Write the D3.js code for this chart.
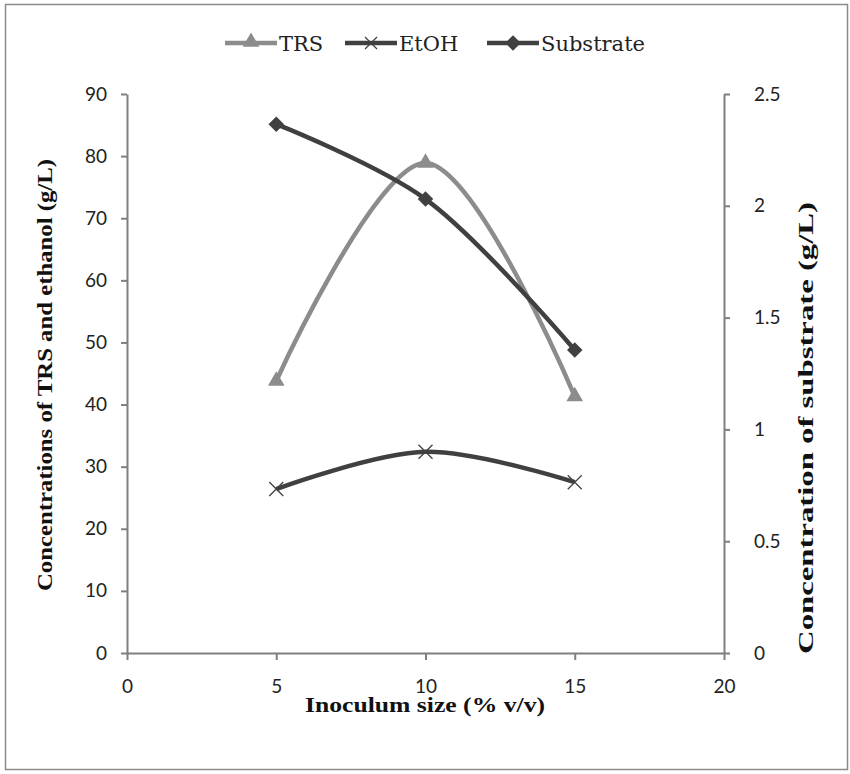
<!DOCTYPE html>
<html><head><meta charset="utf-8">
<script src="https://cdn.jsdelivr.net/npm/d3@7"></script>
<style>body{margin:0;background:#fff}</style>
</head><body>
<script>
const inoculum = [5, 10, 15];
const trs = [43.8, 78.9, 41.3];
const etoh = [26.4, 32.4, 27.5];
const substrate = [2.365, 2.03, 1.355];
const xTicks = [0, 5, 10, 15, 20];
const yLeftTicks = [0, 10, 20, 30, 40, 50, 60, 70, 80, 90];
const yRightTicks = [0, 0.5, 1, 1.5, 2, 2.5];

const W = 850, H = 774;
const svg = d3.select("body").append("svg").attr("width", W).attr("height", H);
svg.append("rect").attr("x", 5.5).attr("y", 4.5).attr("width", 842).attr("height", 765)
  .attr("fill", "#fff").attr("stroke", "#8a8a8a").attr("stroke-width", 1.5);

const x = d3.scaleLinear().domain([0, 20]).range([127, 724]);
const yL = d3.scaleLinear().domain([0, 90]).range([653, 94]);
const yR = d3.scaleLinear().domain([0, 2.5]).range([653, 94]);

const tickFont = "Lato, 'Open Sans', sans-serif";
const serif = "'DejaVu Serif', 'Liberation Serif', serif";
const axisColor = "#7f7f7f";

function styleAxis(g) {
  g.selectAll("path.domain").attr("stroke", axisColor).attr("stroke-width", 2);
  g.selectAll(".tick line").attr("stroke", axisColor).attr("stroke-width", 2);
  g.selectAll(".tick text").attr("fill", "#222").style("font-family", tickFont).style("font-size", "19px");
}

const gx = svg.append("g").attr("transform", "translate(0,653)")
  .call(d3.axisBottom(x).tickValues(xTicks).tickSize(7).tickSizeOuter(0).tickPadding(20).tickFormat(d3.format("d")));
styleAxis(gx);
const gl = svg.append("g").attr("transform", "translate(127,0)")
  .call(d3.axisLeft(yL).tickValues(yLeftTicks).tickSize(6).tickSizeOuter(0).tickPadding(14).tickFormat(d3.format("d")));
styleAxis(gl);
const gr = svg.append("g").attr("transform", "translate(724,0)")
  .call(d3.axisRight(yR).tickValues(yRightTicks).tickSize(6).tickSizeOuter(0).tickPadding(24).tickFormat(d => String(d)));
styleAxis(gr);

const curve = d3.curveCatmullRom.alpha(0.5);
const lineL = d3.line().x(d => x(d[0])).y(d => yL(d[1])).curve(curve);
const lineR = d3.line().x(d => x(d[0])).y(d => yR(d[1])).curve(curve);

const trsData = inoculum.map((v, i) => [v, trs[i]]);
const etohData = inoculum.map((v, i) => [v, etoh[i]]);
const subData = inoculum.map((v, i) => [v, substrate[i]]);

const grey = "#8c8c8c", dark = "#404040";

svg.append("path").attr("d", lineL(trsData)).attr("fill", "none").attr("stroke", grey).attr("stroke-width", 4.5);
svg.append("path").attr("d", lineL(etohData)).attr("fill", "none").attr("stroke", dark).attr("stroke-width", 4.5);
svg.append("path").attr("d", lineR(subData)).attr("fill", "none").attr("stroke", dark).attr("stroke-width", 4.5);

const tri = d3.symbol().type(d3.symbolTriangle).size(120);
const dia = d3.symbol().type(d3.symbolSquare).size(120);

function xMark(g, cx, cy, s) {
  g.append("path").attr("d", `M${cx-s},${cy-s}L${cx+s},${cy+s}M${cx-s},${cy+s}L${cx+s},${cy-s}`)
    .attr("stroke", dark).attr("stroke-width", 1.3).attr("fill", "none");
}

svg.selectAll("path.trsm").data(trsData).enter().append("path").attr("class", "trsm")
  .attr("d", tri).attr("fill", grey)
  .attr("transform", d => `translate(${x(d[0])},${yL(d[1])})`);
const gxm = svg.append("g");
etohData.forEach(d => xMark(gxm, x(d[0]), yL(d[1]), 7));
svg.selectAll("path.subm").data(subData).enter().append("path").attr("class", "subm")
  .attr("d", dia).attr("fill", dark)
  .attr("transform", d => `translate(${x(d[0])},${yR(d[1])}) rotate(45)`);

// Axis titles
function title(t, tx, ty, rot, len) {
  svg.append("text").attr("transform", `translate(${tx},${ty}) rotate(${rot})`).attr("text-anchor", "middle")
    .style("font-family", "'Liberation Serif', serif").style("font-size", "21px").style("font-weight", "bold")
    .attr("textLength", len).attr("lengthAdjust", "spacingAndGlyphs")
    .attr("fill", "#111").text(t);
}
title("Inoculum size (% v/v)", 425, 712, 0, 240);
title("Concentrations of TRS and ethanol (g/L)", 52, 375, -90, 432);
title("Concentration of substrate (g/L)", 813, 428, -90, 452);

// Legend
const legend = [
  {name: "TRS", x1: 225, color: grey, m: "tri"},
  {name: "EtOH", x1: 345, color: dark, m: "x"},
  {name: "Substrate", x1: 487, color: dark, m: "dia"}
];
const ly = 43;
legend.forEach(l => {
  svg.append("line").attr("x1", l.x1).attr("x2", l.x1 + 52).attr("y1", ly).attr("y2", ly)
    .attr("stroke", l.color).attr("stroke-width", 4.5);
  const cx = l.x1 + 26;
  if (l.m === "tri") svg.append("path").attr("d", tri).attr("fill", grey).attr("transform", `translate(${cx},${ly - 1})`);
  else if (l.m === "x") xMark(svg, cx, ly, 6);
  else svg.append("path").attr("d", dia).attr("fill", dark).attr("transform", `translate(${cx},${ly}) rotate(45)`);
  svg.append("text").attr("x", l.x1 + 54).attr("y", ly + 8).style("font-family", serif).style("font-size", "21px")
    .attr("fill", "#222").text(l.name);
});
</script>
</body></html>
